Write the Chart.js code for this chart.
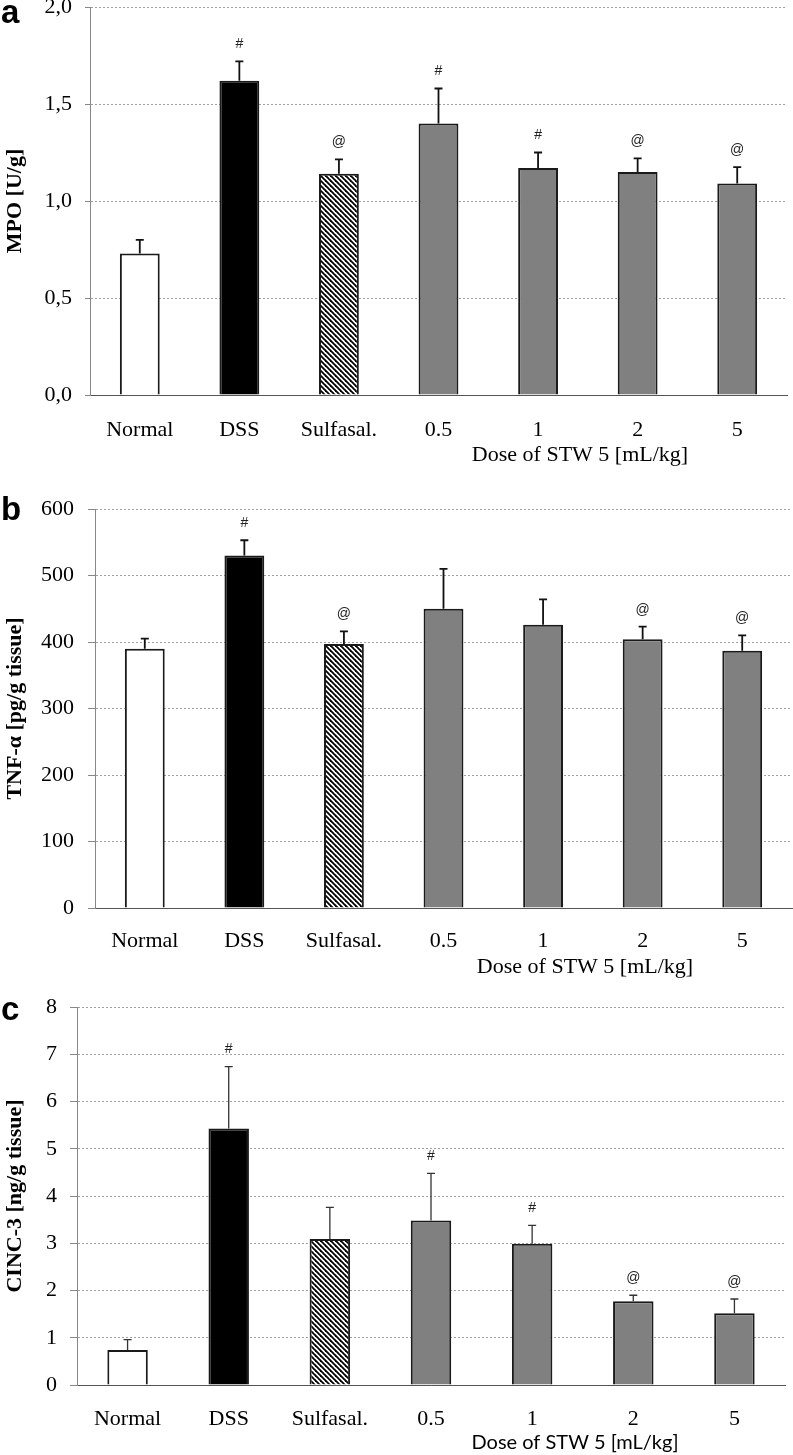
<!DOCTYPE html>
<html><head><meta charset="utf-8">
<script src="https://cdn.jsdelivr.net/npm/chart.js@4/dist/chart.umd.min.js"></script>
<style>
html,body{margin:0;padding:0;background:#fff;width:793px;height:1455px;overflow:hidden}
canvas{position:absolute;left:0}
</style></head><body>
<canvas id="ca" width="793" height="470" style="top:0px"></canvas>
<canvas id="cb" width="793" height="515" style="top:470px"></canvas>
<canvas id="cc" width="793" height="470" style="top:985px"></canvas>
<script>
const categories = ['Normal', 'DSS', 'Sulfasal.', '0.5', '1', '2', '5'];
const doseTitle = 'Dose of STW 5 [mL/kg]';

const mpoValues = [0.73, 1.62, 1.14, 1.40, 1.17, 1.15, 1.09];
const mpoErrors = [0.07, 0.10, 0.075, 0.18, 0.08, 0.07, 0.085];
const mpoMarks = ['', '#', '@', '#', '#', '@', '@'];
const mpoTicks = ['0,0', '0,5', '1,0', '1,5', '2,0'];

const tnfValues = [390, 530, 397, 450, 426, 404, 387];
const tnfErrors = [15, 23, 19, 60, 38, 19, 23];
const tnfMarks = ['', '#', '@', '', '', '@', '@'];
const tnfTicks = ['0', '100', '200', '300', '400', '500', '600'];

const cincValues = [0.74, 5.43, 3.09, 3.48, 2.99, 1.77, 1.52];
const cincErrors = [0.22, 1.31, 0.67, 1.00, 0.39, 0.13, 0.30];
const cincMarks = ['', '#', '', '#', '#', '@', '@'];
const cincTicks = ['0', '1', '2', '3', '4', '5', '6', '7', '8'];

function hatch() {
  const s = 5, c = document.createElement('canvas');
  c.width = s; c.height = s;
  const g = c.getContext('2d');
  g.fillStyle = '#fff'; g.fillRect(0, 0, s, s);
  g.strokeStyle = '#000'; g.lineWidth = 1.8;
  for (const x0 of [-s, 0, s]) { g.beginPath(); g.moveTo(x0 - 1, -1); g.lineTo(x0 + s + 1, s + 1); g.stroke(); }
  return g.createPattern(c, 'repeat');
}
const fills = ['#ffffff', '#000000', hatch(), '#808080', '#808080', '#808080', '#808080'];

const extras = {
  id: 'extras',
  afterDatasetsDraw(chart, args, o) {
    const ctx = chart.ctx, meta = chart.getDatasetMeta(0), ys = chart.scales.y;
    const vals = chart.data.datasets[0].data;
    ctx.save();
    meta.data.forEach((bar, i) => {
      const top = ys.getPixelForValue(vals[i] + o.errors[i]);
      const base = ys.getPixelForValue(vals[i]);
      ctx.strokeStyle = o.errColor; ctx.lineWidth = o.errWidth;
      ctx.beginPath();
      ctx.moveTo(bar.x, base); ctx.lineTo(bar.x, top);
      ctx.moveTo(bar.x - 4, top); ctx.lineTo(bar.x + 4, top);
      ctx.stroke();
      if (o.marks[i]) {
        ctx.fillStyle = '#222'; ctx.font = '14px "Liberation Sans"';
        ctx.textAlign = 'center'; ctx.textBaseline = 'middle';
        ctx.fillText(o.marks[i], bar.x, top - 17);
      }
    });
    ctx.fillStyle = '#000';
    ctx.font = 'bold 33px "Liberation Sans"'; ctx.textAlign = 'left'; ctx.textBaseline = 'alphabetic';
    ctx.fillText(o.letter, 1, o.letterY);
    ctx.font = o.doseFont; ctx.textAlign = 'center'; ctx.textBaseline = 'middle';
    ctx.fillText(doseTitle, o.doseX, o.doseY);
    ctx.restore();
  }
};

function makeChart(id, cfg) {
  const canvas = document.getElementById(id);
  const H = canvas.height;
  return new Chart(canvas, {
    type: 'bar',
    data: {
      labels: categories,
      datasets: [{
        data: cfg.values,
        backgroundColor: fills,
        borderColor: '#1a1a1a',
        borderWidth: 2,
        categoryPercentage: 1,
        barPercentage: 0.4
      }]
    },
    options: {
      responsive: false, animation: false, devicePixelRatio: 1,
      layout: { padding: { top: cfg.area.top, right: 793 - cfg.area.right, left: 0, bottom: 0 } },
      plugins: {
        legend: { display: false }, tooltip: { enabled: false },
        extras: {
          errors: cfg.errors, marks: cfg.marks, errColor: cfg.errColor, errWidth: cfg.errWidth,
          letter: cfg.letter, letterY: cfg.letterY,
          doseFont: cfg.doseFont, doseX: cfg.doseX, doseY: cfg.doseY
        }
      },
      scales: {
        x: {
          grid: { display: false },
          border: { display: true, color: '#555', width: 1 },
          ticks: { color: '#000', font: { family: "'Liberation Serif'", size: 22 }, padding: cfg.xTickPad, maxRotation: 0, autoSkip: false },
          afterFit(s) { s.height = H - cfg.area.bottom; s.paddingLeft = 0; s.paddingRight = 0; }
        },
        y: {
          min: 0, max: cfg.max,
          ticks: {
            stepSize: cfg.step, color: '#000', padding: cfg.tickPad,
            font: { family: "'Liberation Serif'", size: 22 },
            callback: (v, i) => cfg.ticks[i]
          },
          grid: { color: '#a0a0a0', lineWidth: 1, tickColor: '#888', tickLength: cfg.tickLen, drawTicks: true },
          border: { display: true, color: '#888', width: 1, dash: [2, 2] },
          title: {
            display: true, text: cfg.yTitle, color: '#000', padding: 0,
            font: { family: "'Liberation Serif'", size: 22, weight: 'bold', lineHeight: 1.35 }
          },
          afterFit(s) { s.width = cfg.area.left; s.paddingTop = 0; s.paddingBottom = 0; }
        }
      }
    },
    plugins: [extras]
  });
}

makeChart('ca', {
  values: mpoValues, errors: mpoErrors, marks: mpoMarks, ticks: mpoTicks,
  max: 2, step: 0.5, yTitle: 'MPO [U/g]',
  area: { left: 90, top: 7, right: 787, bottom: 395 },
  tickLen: 5, tickPad: 13, xTickPad: 14,
  errColor: '#111', errWidth: 1.8,
  letter: 'a', letterY: 23,
  doseFont: '22px "Liberation Serif"', doseX: 580, doseY: 455
});
makeChart('cb', {
  values: tnfValues, errors: tnfErrors, marks: tnfMarks, ticks: tnfTicks,
  max: 600, step: 100, yTitle: 'TNF-α [pg/g tissue]',
  area: { left: 95, top: 39, right: 792, bottom: 438 },
  tickLen: 7, tickPad: 14, xTickPad: 12,
  errColor: '#111', errWidth: 1.8,
  letter: 'b', letterY: 50,
  doseFont: '22px "Liberation Serif"', doseX: 585, doseY: 497
});
makeChart('cc', {
  values: cincValues, errors: cincErrors, marks: cincMarks, ticks: cincTicks,
  max: 8, step: 1, yTitle: 'CINC-3 [ng/g tissue]',
  area: { left: 77, top: 22, right: 785, bottom: 400 },
  tickLen: 7, tickPad: 13, xTickPad: 13,
  errColor: '#333', errWidth: 1.3,
  letter: 'c', letterY: 35,
  doseFont: '20px Lato', doseX: 575, doseY: 458
});
</script>
</body></html>
